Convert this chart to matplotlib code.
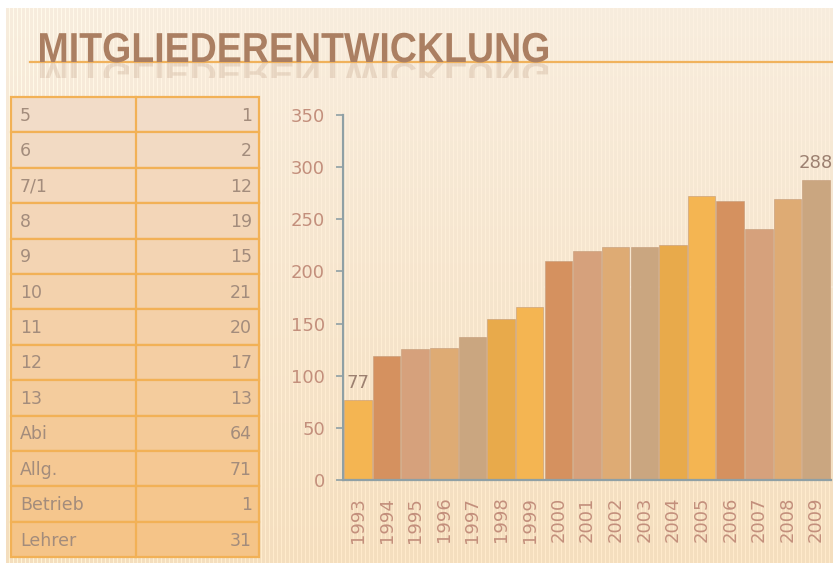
import numpy as np
import matplotlib.pyplot as plt
from matplotlib.patches import Rectangle, PathPatch
from matplotlib.textpath import TextPath
from matplotlib.font_manager import FontProperties
from matplotlib.transforms import Affine2D

# --- data ---
years = ["1993", "1994", "1995", "1996", "1997", "1998", "1999", "2000", "2001",
         "2002", "2003", "2004", "2005", "2006", "2007", "2008", "2009"]
members = [77, 119, 126, 127, 137, 154, 166, 210, 220, 223, 223, 225, 272, 268, 241, 269, 288]
labelled = {"1993": 77, "2009": 288}

table_labels = ["5", "6", "7/1", "8", "9", "10", "11", "12", "13", "Abi", "Allg.", "Betrieb", "Lehrer"]
table_values = [1, 2, 12, 19, 15, 21, 20, 17, 13, 64, 71, 1, 31]

title = "MITGLIEDERENTWICKLUNG"
palette = ["#f4b552", "#d5915f", "#d6a17c", "#deab74", "#caa680", "#e8aa4b"]

W, H = 833, 563
fig = plt.figure(figsize=(W / 100, H / 100), dpi=100)

# background: cream gradient with fine vertical stripes
bg = fig.add_axes([0, 0, 1, 1])
yy, xx = np.mgrid[0:H, 0:W]
top = np.array([248, 237, 222]) / 255
bot = np.array([244, 222, 190]) / 255
t = (yy / H)[..., None]
img = top * (1 - t) + bot * t
stripe = (np.sin(xx * 2 * np.pi / 4.0) > 0.2).astype(float)
strength = 0.05 * (0.3 + 0.7 * (yy / H)) + 0.04 * np.clip(1 - xx / 300, 0, 1)
img = img + (stripe * strength)[..., None]
img = np.clip(img, 0, 1)
img[:8, :, :] = 1.0
img[:, :6, :] = 1.0
bg.imshow(img, extent=[0, W, H, 0], aspect="auto", interpolation="nearest")
bg.set_xlim(0, W)
bg.set_ylim(H, 0)
bg.axis("off")

# faint background curve edge
bg.plot([545, W], [287, 287], color="#f8ead8", lw=1.2)

# title underline
bg.plot([30, W], [62, 62], color="#f0b25c", lw=1.6)

# title drawn as a path so it can be condensed and mirrored
title_font = FontProperties(family=["Liberation Sans", "DejaVu Sans"], weight="bold")
tp = TextPath((0, 0), title, size=10, prop=title_font)
ext = tp.get_extents()
sx = 508 / ext.width
sy = 30 / 7.16
main = PathPatch(tp, transform=Affine2D().translate(-ext.x0, 0).scale(sx, -sy)
                 .translate(40, 62) + bg.transData,
                 facecolor="#ab7f62", edgecolor="none", zorder=5)
bg.add_patch(main)
refl = PathPatch(tp, transform=Affine2D().translate(-ext.x0, 0).scale(sx, sy * 0.75)
                 .translate(40, 63) + bg.transData,
                 facecolor="#ab7f62", edgecolor="none", alpha=0.2, zorder=4)
bg.add_patch(refl)
clip = Rectangle((0, 62), W, 16, transform=bg.transData)
refl.set_clip_path(clip)

# table of members per grade
x0, x1, xm = 11, 259, 136
y0, row_h = 97, 35.4
n = len(table_labels)
for i, (lab, val) in enumerate(zip(table_labels, table_values)):
    ty = y0 + i * row_h
    f = i / (n - 1)
    c = np.array([242, 220, 200]) * (1 - f) + np.array([245, 196, 136]) * f
    bg.add_patch(Rectangle((x0, ty), x1 - x0, row_h, facecolor=c / 255,
                           edgecolor="#f2b156", lw=1.6))
    bg.plot([xm, xm], [ty, ty + row_h], color="#f2b156", lw=1.6)
    bg.text(x0 + 9, ty + row_h / 2 + 1, lab, fontsize=12.5, color="#a38c7c",
            va="center", ha="left")
    bg.text(x1 - 7, ty + row_h / 2 + 1, str(val), fontsize=12.5, color="#a38c7c",
            va="center", ha="right")

# bar chart
ax = fig.add_axes([343 / W, (H - 480) / H, (831 - 343) / W, (480 - 115) / H])
ax.patch.set_alpha(0)
pos = np.arange(len(years))
colors = [palette[i % len(palette)] for i in range(len(years))]
ax.bar(pos, members, width=0.96, color=colors, edgecolor="#c49a78", linewidth=0.4, zorder=2)
for yr, v in labelled.items():
    i = years.index(yr)
    ax.text(pos[i], v + 7, str(v), ha="center", va="bottom", fontsize=13, color="#9c8070")

ax.set_xlim(-0.52, len(years) - 0.48)
ax.set_ylim(0, 350)
ax.set_yticks(range(0, 351, 50))
ax.set_xticks(pos)
ax.set_xticklabels(years, rotation=90, fontsize=13, color="#c38f7c")
ax.tick_params(axis="y", labelsize=13, labelcolor="#c38f7c", color="#8fa0a5",
               length=5, width=1.2, pad=8)
ax.tick_params(axis="x", length=0, pad=12)
for s in ["top", "right"]:
    ax.spines[s].set_visible(False)
for s in ["left", "bottom"]:
    ax.spines[s].set_color("#8fa0a5")
    ax.spines[s].set_linewidth(1.6)

fig.savefig("out.png", dpi=100)
